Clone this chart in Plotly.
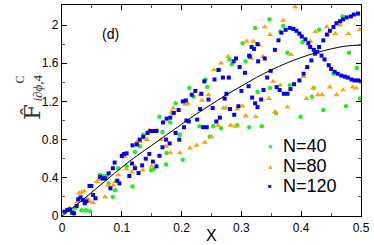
import plotly.graph_objects as go

# ---------------- data ----------------
curve_x = [0.0, 0.025, 0.05, 0.075, 0.1, 0.125, 0.15, 0.175, 0.2, 0.225, 0.25, 0.275,
           0.3, 0.325, 0.35, 0.375, 0.4, 0.425, 0.45, 0.475, 0.5]
curve_y = [0.0, 0.12, 0.25, 0.38, 0.51, 0.63, 0.74, 0.85, 0.96, 1.07, 1.17, 1.27,
           1.36, 1.45, 1.53, 1.60, 1.66, 1.71, 1.75, 1.78, 1.79]

n40_x = [0.016, 0.022, 0.033, 0.040, 0.047, 0.0635, 0.069, 0.075, 0.078, 0.085, 0.089, 0.094,
         0.101, 0.108, 0.118, 0.122, 0.130, 0.136, 0.149, 0.153, 0.163, 0.168, 0.174, 0.175,
         0.181, 0.184, 0.190, 0.197, 0.202, 0.213, 0.220, 0.230, 0.240, 0.243, 0.247, 0.253,
         0.261, 0.266, 0.280, 0.284, 0.293, 0.302, 0.307, 0.313, 0.323, 0.327, 0.334, 0.347,
         0.348, 0.358, 0.365, 0.370, 0.377, 0.381, 0.399, 0.402, 0.418, 0.421, 0.430, 0.437,
         0.454, 0.469, 0.475, 0.480, 0.493, 0.498]
n40_y = [0.05, 0.08, 0.06, 0.06, 0.05, 0.43, 0.42, 0.42, 0.34, 0.20, 0.27, 0.50,
         0.64, 0.52, 0.31, 0.67, 0.73, 0.85, 0.48, 0.49, 1.04, 0.88, 0.54, 0.66,
         0.98, 1.08, 1.18, 0.85, 0.59, 1.34, 1.25, 0.94, 1.43, 1.35, 0.83, 0.94,
         1.53, 0.92, 1.64, 1.59, 0.95, 1.81, 1.62, 0.93, 1.97, 1.30, 0.94, 2.06,
         1.34, 1.08, 1.93, 1.99, 1.71, 1.37, 1.04, 1.82, 1.25, 1.34, 1.95, 1.11,
         1.49, 2.09, 1.15, 1.71, 1.55, 1.23]

n80_x = [0.008, 0.013, 0.018, 0.022, 0.026, 0.029, 0.033, 0.037, 0.042, 0.047, 0.052, 0.058,
         0.062, 0.066, 0.072, 0.077, 0.086, 0.089, 0.094, 0.105, 0.108, 0.117, 0.122, 0.126,
         0.130, 0.135, 0.142, 0.146, 0.150, 0.158, 0.166, 0.174, 0.181, 0.183, 0.186, 0.197,
         0.206, 0.210, 0.214, 0.225, 0.231, 0.234, 0.239, 0.245, 0.250, 0.254, 0.261, 0.266,
         0.270, 0.274, 0.278, 0.282, 0.290, 0.293, 0.302, 0.307, 0.309, 0.317, 0.320, 0.324,
         0.330, 0.336, 0.339, 0.346, 0.348, 0.353, 0.356, 0.365, 0.370, 0.377, 0.383, 0.390,
         0.401, 0.404, 0.409, 0.415, 0.420, 0.424, 0.428, 0.435, 0.443, 0.448, 0.457, 0.459,
         0.465, 0.470, 0.479, 0.486, 0.492, 0.498]
n80_y = [0.06, 0.08, 0.03, 0.10, 0.15, 0.24, 0.25, 0.26, 0.18, 0.15, 0.14, 0.36,
         0.39, 0.38, 0.20, 0.32, 0.32, 0.36, 0.43, 0.62, 0.49, 0.46, 0.52, 0.78,
         0.78, 0.48, 0.80, 0.90, 0.52, 0.90, 0.80, 0.73, 0.66, 1.09, 1.13, 0.66,
         1.17, 1.18, 0.71, 0.74, 1.27, 1.21, 0.77, 1.27, 0.83, 1.53, 0.95, 1.60,
         1.13, 1.13, 1.67, 0.95, 0.94, 1.12, 1.15, 1.05, 1.83, 1.65, 1.83, 1.04,
         1.79, 1.67, 1.98, 1.23, 1.90, 1.41, 1.09, 1.37, 2.05, 1.14, 1.69, 2.19,
         1.88, 1.46, 1.23, 1.83, 1.34, 1.93, 1.27, 1.27, 1.98, 1.35, 1.91, 1.27,
         2.00, 1.32, 1.91, 1.35, 1.34, 1.95]

n120_x = [0.004, 0.009, 0.013, 0.017, 0.020, 0.0245, 0.027, 0.031, 0.035, 0.038, 0.041, 0.046,
          0.049, 0.052, 0.056, 0.0635, 0.068, 0.072, 0.078, 0.081, 0.085, 0.088, 0.0925, 0.096,
          0.100, 0.104, 0.108, 0.1126,
          0.118, 0.125, 0.130, 0.136, 0.143, 0.148, 0.154, 0.158, 0.169, 0.175, 0.181, 0.187, 0.195,
          0.117, 0.122, 0.128, 0.134, 0.140, 0.146, 0.152, 0.158, 0.163, 0.168, 0.174, 0.180, 0.190, 0.196,
          0.202, 0.204, 0.207, 0.208, 0.212, 0.217, 0.223, 0.226, 0.231, 0.233, 0.236, 0.238, 0.242,
          0.245, 0.252, 0.255, 0.258, 0.262, 0.264, 0.269, 0.272, 0.275, 0.279, 0.281, 0.287, 0.291,
          0.288, 0.295, 0.297, 0.300, 0.306, 0.313,
          0.317, 0.321, 0.327, 0.314, 0.328, 0.339, 0.343, 0.349, 0.318, 0.323, 0.327, 0.312, 0.333, 0.337,
          0.356, 0.362, 0.367, 0.374, 0.381, 0.387, 0.392, 0.397, 0.401, 0.407, 0.412, 0.415, 0.421,
          0.427, 0.434, 0.439, 0.446, 0.450, 0.456, 0.461, 0.467, 0.473, 0.478, 0.484, 0.489, 0.495, 0.4995,
          0.359, 0.364, 0.371, 0.377, 0.382, 0.388, 0.397, 0.404, 0.410, 0.417, 0.423, 0.430, 0.437,
          0.443, 0.448, 0.454, 0.459, 0.465, 0.470, 0.476, 0.483, 0.488, 0.495]
n120_y = [0.045, 0.063, 0.07, 0.035, 0.028, 0.105, 0.175, 0.195, 0.168, 0.133, 0.154, 0.314,
          0.314, 0.22, 0.185, 0.41, 0.394, 0.394, 0.447, 0.29, 0.50, 0.56, 0.37, 0.342,
          0.628, 0.649, 0.656, 0.419,
          0.74, 0.75, 0.80, 0.83, 0.87, 0.89, 0.89, 0.89, 0.98, 1.02, 1.03, 1.08, 1.11,
          0.55, 0.50, 0.45, 0.53, 0.60, 0.65, 0.57, 0.52, 0.63, 0.72, 0.80, 0.76, 0.87, 0.80,
          1.20, 0.93, 1.21, 1.00, 0.99, 1.27, 1.31, 1.01, 1.12, 1.28, 0.93, 1.41, 0.93,
          1.22, 1.13, 1.43, 0.99, 1.53, 1.03, 1.45, 1.23, 1.28, 1.45, 1.12, 1.62, 1.65,
          1.06, 1.15, 1.56, 1.31, 1.50, 1.68,
          1.77, 1.75, 1.80, 1.67, 1.62, 1.65, 1.45, 1.52, 1.24, 1.18, 1.14, 1.36, 1.22, 1.32,
          1.74, 1.84, 1.92, 1.95, 1.97, 1.96, 1.94, 1.91, 1.88, 1.85, 1.81, 1.77, 1.74,
          1.72, 1.68, 1.64, 1.58, 1.54, 1.51, 1.49, 1.47, 1.46, 1.45, 1.43, 1.42, 1.42, 1.41,
          1.35, 1.32, 1.28, 1.28, 1.33, 1.38, 1.42, 1.49, 1.56, 1.63, 1.70, 1.77, 1.84,
          1.90, 1.94, 1.98, 2.02, 2.04, 2.06, 2.08, 2.09, 2.11, 2.12]

series_names = ["N=40", "N=80", "N=120"]
series_colors = ["#22ee22", "#ffa500", "#0000ff"]
panel_label = "(d)"
x_title = "X"

# ---------------- figure ----------------
fig = go.Figure()
fig.add_trace(go.Scatter(x=n40_x, y=n40_y, mode="markers", name=series_names[0],
                         marker=dict(symbol="circle", size=4.5, color=series_colors[0])))
fig.add_trace(go.Scatter(x=n80_x, y=n80_y, mode="markers", name=series_names[1],
                         marker=dict(symbol="triangle-up", size=5.5, color=series_colors[1])))
fig.add_trace(go.Scatter(x=n120_x, y=n120_y, mode="markers", name=series_names[2],
                         marker=dict(symbol="square", size=4, color=series_colors[2])))
fig.add_trace(go.Scatter(x=curve_x, y=curve_y, mode="lines", line=dict(color="black", width=1, shape="spline"),
                         showlegend=False))

W, H = 374, 245
L, R, T, B = 62, 13, 5, 29
pw, ph = W - L - R, H - T - B


def px(x):
    return (x - L) / pw


def py(y):
    return (H - B - y) / ph


ann = []


def add_ann(**kw):
    kw.setdefault("xref", "paper")
    kw.setdefault("yref", "paper")
    kw.setdefault("showarrow", False)
    ann.append(kw)


add_ann(x=px(100), y=py(24), text=panel_label,
        font=dict(size=14, family="Liberation Sans", color="black"))
# y-axis title made of pieces
add_ann(x=px(17), y=py(112), text="F\u0302", textangle=-90,
        font=dict(size=23, family="DejaVu Serif", color="#333"))
add_ann(x=px(10.5), y=py(80), text="C", textangle=-90,
        font=dict(size=12, family="Liberation Serif", color="#333"))
add_ann(x=px(28), y=py(88), text="<i>i\u2202\u03d5</i>,4", textangle=-90,
        font=dict(size=13, family="Liberation Serif", color="#333"))
# x-axis title
add_ann(x=px(211), y=py(244.5), text=x_title, xanchor="center", yanchor="bottom",
        borderpad=0, font=dict(size=16, family="Liberation Sans", color="black"))

# legend
symbols = ["\u25cf", "\u25b2", "\u25a0"]
sym_sizes = [8, 7, 6]
rows = [146, 166, 186]
for name, col, sym, ss, ry in zip(series_names, series_colors, symbols, sym_sizes, rows):
    add_ann(x=px(270), y=py(ry), text=sym, font=dict(size=ss, color=col),
            xanchor="center", yanchor="middle")
    add_ann(x=px(281), y=py(ry), text=name, xanchor="left", yanchor="middle",
            font=dict(size=18, family="Liberation Sans", color="black"))

fig.update_layout(
    width=W, height=H,
    margin=dict(l=L, r=R, t=T, b=B, autoexpand=False),
    paper_bgcolor="white", plot_bgcolor="white",
    showlegend=False,
    annotations=ann,
    font=dict(family="Liberation Sans", color="black"),
)
fig.update_xaxes(range=[0, 0.5], dtick=0.1, tick0=0, ticks="inside", ticklen=5, tickcolor="black",
                 minor=dict(dtick=0.05, ticks="inside", ticklen=3, tickcolor="#555"),
                 showline=True, linecolor="black", linewidth=1.3, mirror="ticks",
                 showgrid=False, zeroline=False, automargin=False,
                 tickfont=dict(size=12, family="Liberation Sans", color="black"))
fig.update_yaxes(range=[0, 2.21], dtick=0.4, tick0=0, ticks="inside", ticklen=5, tickcolor="black",
                 minor=dict(dtick=0.2, ticks="inside", ticklen=3, tickcolor="#555"),
                 showline=True, linecolor="black", linewidth=1.3, mirror="ticks",
                 showgrid=False, zeroline=False, automargin=False,
                 tickfont=dict(size=12, family="Liberation Sans", color="black"))

fig.write_html("out.html", config={"displayModeBar": False},
               post_script="document.body.style.margin='0px';document.body.style.overflow='hidden';")
